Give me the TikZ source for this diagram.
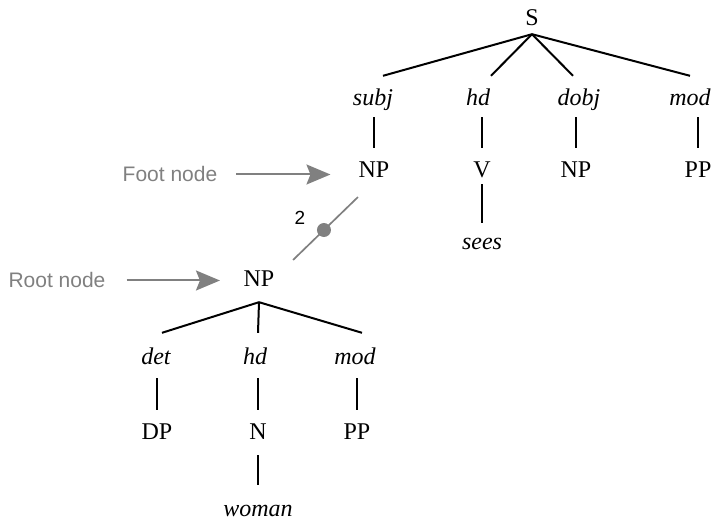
\documentclass[tikz,border=0pt]{standalone}
\usepackage{fontspec}
\setmainfont{Liberation Serif}
\newfontfamily\notefont{Liberation Sans}
\usetikzlibrary{arrows.meta}
\definecolor{annot}{gray}{0.5}

\begin{document}
\begin{tikzpicture}[x=1pt,y=-1pt,
  every node/.style={inner sep=0pt, anchor=base, font=\fontsize{24}{28}\selectfont},
  cat/.style={text height=30pt, text depth=6pt},
  fn/.style={font=\fontsize{24}{28}\selectfont\itshape, text height=30pt, text depth=11pt},
  lex/.style={font=\fontsize{24}{28}\selectfont\itshape, text height=27pt, text depth=2pt},
  branch/.style={line width=2pt, black},
  note/.style={font=\fontsize{21}{24}\selectfont\notefont, text=annot, text height=15pt, text depth=0pt},
  pointer/.style={annot, line width=2pt, -{Stealth[length=24pt,width=20pt,inset=4pt]}},
  link/.style={annot, line width=1.7pt},
  slash/.style={circle, fill=annot, minimum size=14pt, inner sep=0pt, anchor=center}
]
\useasboundingbox (0,0) rectangle (713,521);

% upper tree
\node[cat, text depth=8pt] (S) at (532,26) {S};
\node[fn] (subj) at (373,106) {subj};
\node[fn] (hdA)  at (478,106) {hd};
\node[fn] (dobj) at (579,106) {dobj};
\node[fn] (modA) at (690,106) {mod};
\node[cat] (npA) at (374,178) {NP};
\node[cat] (v)   at (482,178) {V};
\node[cat] (npB) at (576,178) {NP};
\node[cat] (ppA) at (698,178) {PP};
\node[lex] (sees) at (482,250) {sees};

\draw[branch] (S.south) -- ([xshift=10pt]subj.north);
\draw[branch] (S.south) -- ([xshift=13pt]hdA.north);
\draw[branch] (S.south) -- ([xshift=-6pt]dobj.north);
\draw[branch] (S.south) -- (modA.north);
\draw[branch] (subj.south -| npA.north) -- (npA.north);
\draw[branch] (hdA.south -| v.north) -- (v.north);
\draw[branch] (dobj.south -| npB.north) -- (npB.north);
\draw[branch] (modA.south -| ppA.north) -- (ppA.north);
\draw[branch] (v.south) -- (sees.north);

% lower tree
\node[cat, text depth=15pt] (npC) at (259,287) {NP};
\node[fn, text height=32pt, text depth=13pt] (det)  at (156,365) {det};
\node[fn, text height=32pt, text depth=13pt] (hdB)  at (255,365) {hd};
\node[fn, text height=32pt, text depth=13pt] (modB) at (355,365) {mod};
\node[cat] (dp) at (157,440) {DP};
\node[cat, text depth=15pt] (n) at (258,440) {N};
\node[cat] (ppB) at (357,440) {PP};
\node[lex, text height=32pt] (woman) at (258,517) {woman};

\draw[branch] (npC.south) -- ([xshift=6pt]det.north);
\draw[branch] (npC.south) -- ([xshift=3pt]hdB.north);
\draw[branch] (npC.south) -- ([xshift=7pt]modB.north);
\draw[branch] (det.south -| dp.north) -- (dp.north);
\draw[branch] (hdB.south -| n.north) -- (n.north);
\draw[branch] (modB.south -| ppB.north) -- (ppB.north);
\draw[branch] (n.south) -- (woman.north);

% adjunction link with its index
\draw[link, shorten <=47.4pt, shorten >=22.3pt]
  ([yshift=-6pt]npC.base) -- ([yshift=-3.5pt]npA.base)
  node[slash, pos=0.565] (dot) {};
\node[anchor=center, font=\fontsize{19}{21}\selectfont\notefont]
  (idx) at ([shift={(-24pt,12pt)}]dot.center) {2};

% annotations
\node[note] (foot) at (170,182) {Foot node};
\node[note] (root) at (57,288) {Root node};
\draw[pointer, shorten <=19pt, shorten >=28pt] (foot.east) -- (foot.east -| npA.west);
\draw[pointer, shorten <=21pt, shorten >=23.5pt] (root.east) -- (root.east -| npC.west);
\end{tikzpicture}
\end{document}
